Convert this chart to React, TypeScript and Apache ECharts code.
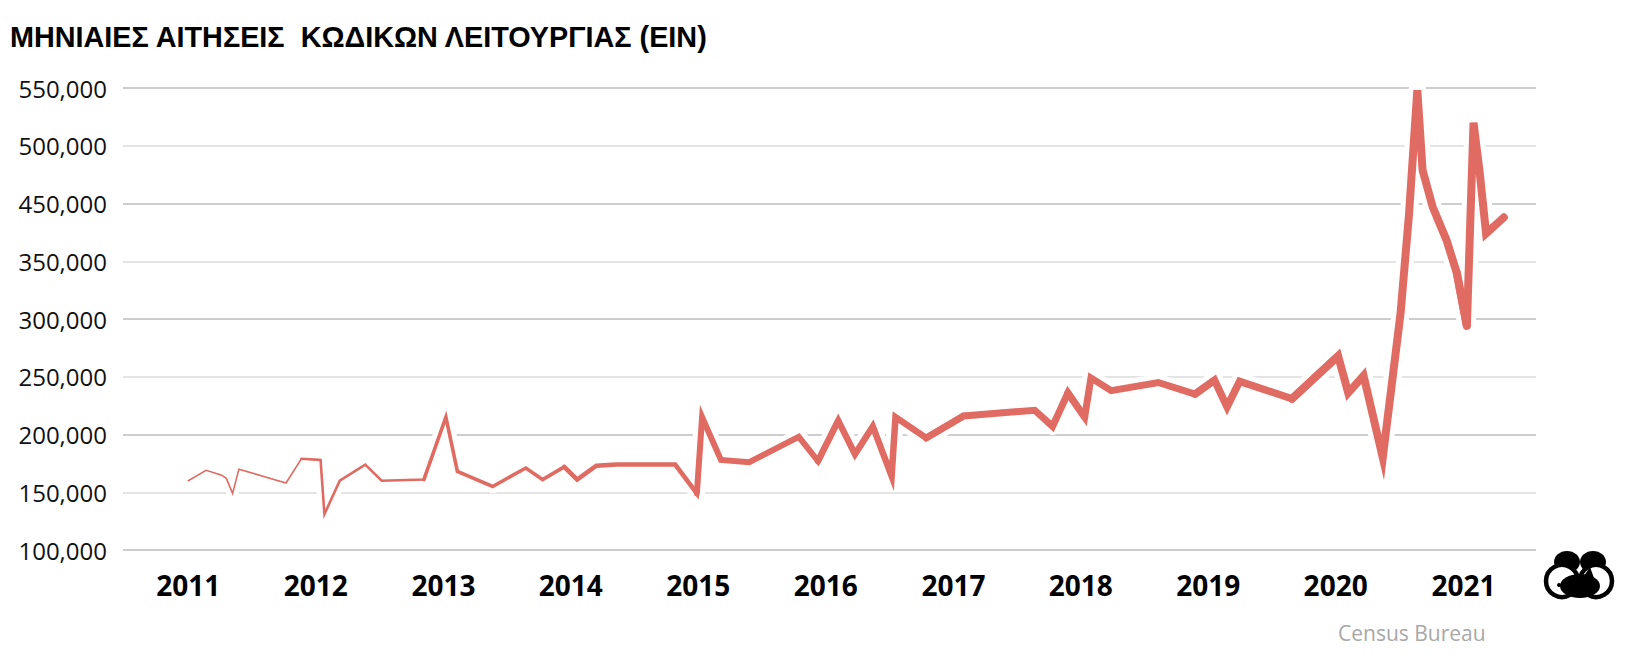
import React, { useEffect, useRef } from 'react';
import * as echarts from 'echarts';

const titleText = 'ΜΗΝΙΑΙΕΣ ΑΙΤΗΣΕΙΣ  ΚΩΔΙΚΩΝ ΛΕΙΤΟΥΡΓΙΑΣ (EIN)';
const sourceText = 'Census Bureau';

// y axis: gridline values and the labels printed on them in the reference
const yTickValues = [150000, 200000, 250000, 300000, 350000, 400000, 450000, 500000, 550000];
const yTickLabels = ['100,000', '150,000', '200,000', '250,000', '300,000', '350,000', '450,000', '500,000', '550,000'];

const xTickYears = [2011, 2012, 2013, 2014, 2015, 2016, 2017, 2018, 2019, 2020, 2021];
const xRangeStart = '2010-06-28';
const xRangeEnd = '2021-07-28';

const pointDates = [
  '2011-01-01', '2011-02-21', '2011-04-05', '2011-04-20', '2011-05-08', '2011-05-26', '2011-10-08', '2011-11-21',
  '2012-01-15', '2012-01-26', '2012-03-10', '2012-05-22', '2012-07-08', '2012-11-06',
  '2013-01-08', '2013-02-10', '2013-05-22', '2013-08-25', '2013-10-12', '2013-12-13',
  '2014-01-19', '2014-03-15', '2014-05-12', '2014-10-27', '2014-12-28',
  '2015-01-12', '2015-03-07', '2015-05-27', '2015-10-16', '2015-12-10',
  '2016-02-06', '2016-03-25', '2016-05-15', '2016-07-08', '2016-07-19', '2016-10-15',
  '2017-01-30', '2017-08-22', '2017-10-12', '2017-11-25',
  '2018-01-12', '2018-01-30', '2018-03-29', '2018-08-11', '2018-11-24',
  '2019-01-19', '2019-02-24', '2019-04-01', '2019-08-29',
  '2020-01-08', '2020-02-06', '2020-03-21', '2020-05-15', '2020-07-05', '2020-07-29', '2020-08-22',
  '2020-09-06', '2020-10-05', '2020-11-14', '2020-12-13',
  '2021-01-11', '2021-01-30', '2021-02-17', '2021-03-07', '2021-04-27',
];
const pointValues = [
  210000, 219000, 215000, 212000, 199000, 220000, 208000, 229000,
  228000, 181000, 210000, 224000, 210000, 211000,
  265000, 218000, 205000, 221000, 211000, 222000,
  211000, 223000, 224000, 224000, 199000,
  265000, 228000, 226000, 248000, 227000,
  262000, 233000, 257000, 214000, 265000, 247000,
  266000, 271000, 257000, 286000,
  265000, 299000, 288000, 295000, 285000,
  297000, 274000, 296000, 281000,
  318000, 286000, 301000, 230000, 355000, 440000, 548000,
  479000, 447000, 418000, 390000,
  344000, 520000, 476000, 424000, 438000,
];

const LINE_COLOR = '#e06b63';
const widthByYear: Record<number, number> = {
  2011: 1.6, 2012: 2.6, 2013: 3.6, 2014: 4.6, 2015: 6, 2016: 6.5,
  2017: 7, 2018: 7, 2019: 7.5, 2020: 8, 2021: 8,
};

function toTs(s: string): number {
  const [y, m, d] = s.split('-').map(Number);
  return new Date(y, m - 1, d).getTime();
}

function buildSeries() {
  const pts = pointDates.map((d, i) => [toTs(d), pointValues[i]]);
  const years = pointDates.map((d) => Number(d.slice(0, 4)));
  const uniq = Array.from(new Set(years));
  const under: any[] = [];
  const over: any[] = [];
  uniq.forEach((yr) => {
    const first = years.indexOf(yr);
    const last = years.lastIndexOf(yr);
    const s = Math.max(first - 1, 0);
    const e = Math.min(last + 1, pts.length - 1);
    const data = pts.slice(s, e + 1);
    const w = widthByYear[yr] || 7;
    under.push({
      type: 'line', data, showSymbol: false, symbol: 'none', silent: true, z: 4,
      lineStyle: { color: '#ffffff', width: w + 10, join: 'round', cap: 'round' },
    });
    over.push({
      type: 'line', data, showSymbol: false, symbol: 'none', silent: true, z: 5,
      lineStyle: { color: LINE_COLOR, width: w, join: 'miter', miterLimit: 8, cap: 'round' },
    });
  });
  return [...under, ...over];
}

export default function App() {
  const ref = useRef<HTMLDivElement>(null);
  useEffect(() => {
    document.body.style.margin = '0';
    const chart = echarts.init(ref.current!, null, { renderer: 'svg' });
    const yMin = yTickValues[0];
    const yMax = yTickValues[yTickValues.length - 1];
    const yStep = yTickValues[1] - yTickValues[0];
    chart.setOption({
      animation: false,
      backgroundColor: '#ffffff',
      grid: { left: 123, right: 104, top: 88, bottom: 114, containLabel: false },
      xAxis: {
        type: 'time',
        min: toTs(xRangeStart),
        max: toTs(xRangeEnd),
        splitNumber: 11,
        minInterval: 365 * 24 * 3600 * 1000,
        maxInterval: 366 * 24 * 3600 * 1000,
        axisLine: { show: false },
        axisTick: { show: false },
        splitLine: { show: false },
        axisLabel: {
          margin: 21,
          color: '#000',
          fontFamily: '"Open Sans", sans-serif',
          fontWeight: 'bold',
          fontSize: 28,
          showMinLabel: false,
          showMaxLabel: false,
          formatter: (v: number) => {
            const d = new Date(v);
            if (d.getMonth() === 0 && d.getDate() === 1 && xTickYears.includes(d.getFullYear())) {
              return String(d.getFullYear());
            }
            return '';
          },
        },
      },
      yAxis: {
        type: 'value',
        min: yMin,
        max: yMax,
        interval: yStep,
        z: 0,
        axisLine: { show: false },
        axisTick: { show: false },
        axisLabel: {
          margin: 16,
          color: '#111',
          fontFamily: '"Open Sans", sans-serif',
          fontSize: 24,
          formatter: (v: number) => yTickLabels[Math.round((v - yMin) / yStep)] ?? '',
        },
        splitLine: { show: true, lineStyle: { color: ['#cdcdcd', '#e4e4e4'], width: 2 } },
      },
      series: buildSeries(),
      graphic: [
        {
          type: 'text', x: 10, y: 36, scaleX: 0.96,
          style: {
            text: titleText, fill: '#000',
            font: 'bold 30px "Liberation Sans", Arial, sans-serif',
            verticalAlign: 'middle', align: 'left',
          },
        },
        {
          type: 'text', x: 1338, y: 633,
          style: {
            text: sourceText, fill: '#a8a8a8',
            font: '21px "Open Sans", sans-serif',
            verticalAlign: 'middle', align: 'left',
          },
        },
        {
          type: 'group', x: 0, y: 0,
          children: [
            { type: 'ellipse', shape: { cx: 1567, cy: 562, rx: 13, ry: 11 }, style: { fill: '#000' } },
            { type: 'ellipse', shape: { cx: 1593, cy: 562, rx: 13, ry: 11 }, style: { fill: '#000' } },
            { type: 'circle', shape: { cx: 1562, cy: 581, r: 16 }, style: { fill: '#fff', stroke: '#000', lineWidth: 4.5 } },
            { type: 'circle', shape: { cx: 1596, cy: 581, r: 16 }, style: { fill: '#fff', stroke: '#000', lineWidth: 4.5 } },
            { type: 'ellipse', shape: { cx: 1580, cy: 586, rx: 20, ry: 12 }, style: { fill: '#000' } },
            { type: 'polygon', shape: { points: [[1584, 576], [1590, 567], [1594, 578]] }, style: { fill: '#000' } },
            { type: 'circle', shape: { cx: 1559, cy: 585, r: 2 }, style: { fill: '#000' } },
          ],
        },
      ],
    });
    return () => chart.dispose();
  }, []);
  return <div ref={ref} style={{ width: 1640, height: 664 }} />;
}
